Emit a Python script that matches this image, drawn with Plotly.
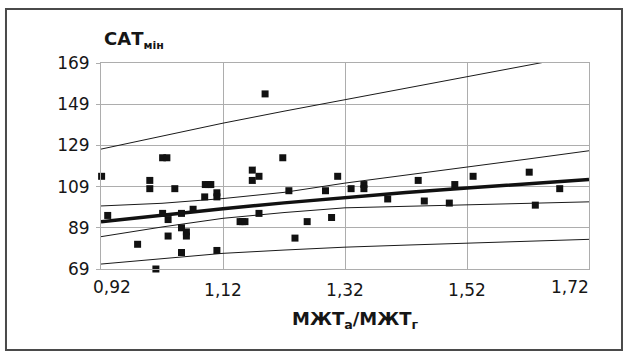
import plotly.graph_objects as go

# Scatter data (МЖТа/МЖТг vs САТмін)
x_pts = [0.921, 0.931, 0.980, 1.000, 1.000, 1.010, 1.021, 1.028, 1.021, 1.030,
         1.030, 1.041, 1.052, 1.052, 1.052, 1.060, 1.060, 1.071, 1.091, 1.096,
         1.100, 1.090, 1.110, 1.110, 1.110, 1.148, 1.152, 1.156, 1.168, 1.168,
         1.179, 1.179, 1.189, 1.218, 1.228, 1.238, 1.258, 1.288, 1.298, 1.308,
         1.330, 1.351, 1.351, 1.390, 1.440, 1.450, 1.491, 1.500, 1.530, 1.622,
         1.632, 1.672]
y_pts = [114, 95, 81, 112, 108, 69, 123, 123, 96, 93,
         85, 108, 96, 89, 77, 87, 85, 98, 110, 110,
         110, 104, 106, 104, 78, 92, 92, 92, 117, 112,
         114, 96, 154, 123, 107, 84, 92, 107, 94, 114,
         108, 110, 108, 103, 112, 102, 101, 110, 114, 116,
         100, 108]

# Regression curve and bands, read at these x positions
line_x = [0.92, 1.02, 1.12, 1.22, 1.32, 1.42, 1.52, 1.62, 1.72]
fit    = [91.9, 95.2, 98.3, 101.1, 103.7, 106.1, 108.3, 110.4, 112.4]
ci_up  = [99.6, 100.9, 103.2, 106.2, 110.7, 114.5, 118.4, 122.4, 126.4]
ci_lo  = [84.7, 89.4, 93.6, 96.4, 98.7, 99.4, 100.1, 100.9, 101.6]
pi_up  = [127.2, 133.6, 139.8, 145.6, 151.2, 156.9, 162.5, 168.0, 173.5]
pi_lo  = [71.4, 74.1, 76.6, 78.2, 79.6, 80.6, 81.5, 82.5, 83.4]

x_ticks = [0.92, 1.12, 1.32, 1.52, 1.72]
x_ticktext = ["", "1,12", "1,32", "1,52", ""]
y_ticks = [69, 89, 109, 129, 149, 169]

FONT = "DejaVu Sans, Liberation Sans, Arial, sans-serif"
GRID = "#adadad"
TXT = "#161616"

fig = go.Figure()
for ys in (pi_up, ci_up, ci_lo, pi_lo):
    fig.add_trace(go.Scatter(x=line_x, y=ys, mode="lines",
                             line=dict(color="#1a1a1a", width=1),
                             hoverinfo="skip", showlegend=False))
fig.add_trace(go.Scatter(x=line_x, y=fit, mode="lines",
                         line=dict(color="#111111", width=3.5),
                         showlegend=False))
fig.add_trace(go.Scatter(x=x_pts, y=y_pts, mode="markers",
                         marker=dict(symbol="square", size=7, color="#111111",
                                     line=dict(width=0)),
                         cliponaxis=False, showlegend=False))

fig.update_xaxes(range=[0.92, 1.72], tickvals=x_ticks, ticktext=x_ticktext,
                 showgrid=True, gridcolor=GRID, gridwidth=1,
                 showline=True, linecolor=GRID, linewidth=1, mirror=True,
                 ticks="", ticklabelstandoff=6, zeroline=False,
                 tickfont=dict(family=FONT, size=17, color=TXT))
fig.update_yaxes(range=[69, 169], tickvals=y_ticks,
                 showgrid=True, gridcolor=GRID, gridwidth=1,
                 showline=True, linecolor=GRID, linewidth=1, mirror=True,
                 ticks="outside", ticklen=4, tickcolor=GRID,
                 ticklabelstandoff=3, zeroline=False,
                 tickfont=dict(family=FONT, size=17, color=TXT))

annotations = [
    dict(x=0.92, y=0, xref="x", yref="paper", text="0,92", showarrow=False,
         xanchor="center", yanchor="top", xshift=11, yshift=-6,
         font=dict(family=FONT, size=17, color=TXT)),
    dict(x=1.72, y=0, xref="x", yref="paper", text="1,72", showarrow=False,
         xanchor="center", yanchor="top", xshift=-19, yshift=-6,
         font=dict(family=FONT, size=17, color=TXT)),
    dict(x=0.002, y=1.112, xref="paper", yref="paper",
         text="<b>САТ<sub><span style='font-size:11px'>мін</span></sub></b>",
         showarrow=False, xanchor="left", yanchor="middle",
         font=dict(family=FONT, size=18, color=TXT)),
    dict(x=0.5205, y=-0.2476, xref="paper", yref="paper",
         text="<b>МЖТ<sub>а</sub>/МЖТ<sub>г</sub></b>",
         showarrow=False, xanchor="center", yanchor="middle",
         font=dict(family=FONT, size=18, color=TXT)),
]

fig.update_layout(
    width=627, height=354,
    margin=dict(l=101, r=38, t=63, b=85),
    paper_bgcolor="white", plot_bgcolor="white",
    annotations=annotations,
    shapes=[dict(type="rect", xref="paper", yref="paper",
                 x0=-0.1947, x1=1.0676, y0=-0.393, y1=1.262,
                 line=dict(color="#4a4a4a", width=2), layer="above")],
)

fig.write_html("out.html",
               config={"displayModeBar": False},
               post_script="document.body.style.margin='0';"
                           "document.body.style.overflow='hidden';")
